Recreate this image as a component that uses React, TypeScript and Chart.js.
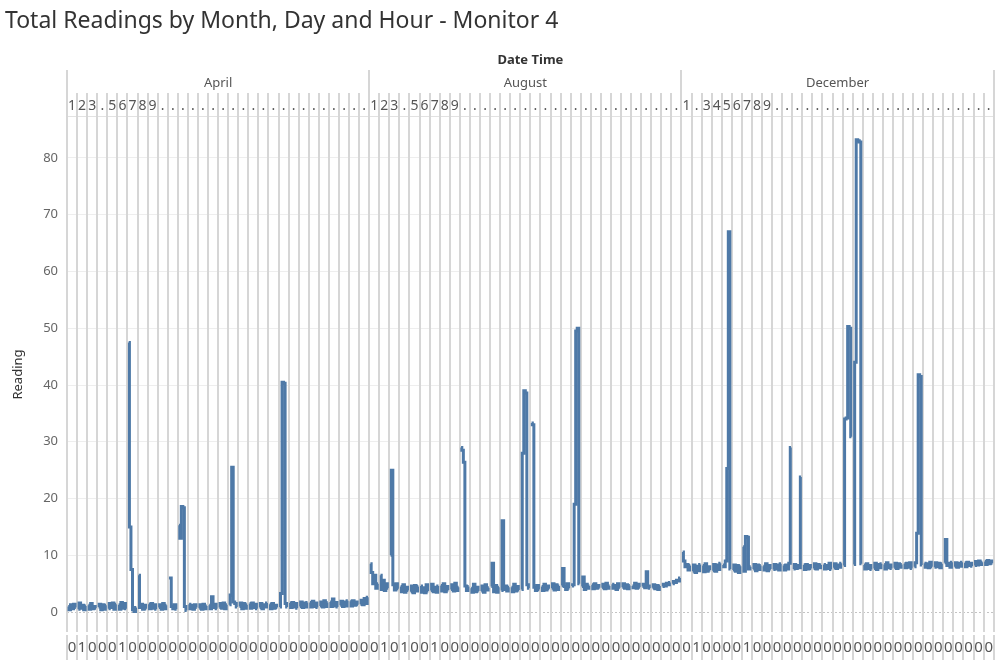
import React, { useEffect, useRef } from "react";
import { Chart, registerables } from "chart.js";

Chart.register(...registerables);

const FONT = '"Noto Sans", "Open Sans", sans-serif';

const chartTitle = "Total Readings by Month, Day and Hour - Monitor 4";
const monthNames = ["April", "August", "December"];

// Readings per day (6 readings per day, roughly every 4 hours)
const aprilReadings: number[][] = [
  [1.0, 0.4, 1.3, 0.6, 1.4, 0.8],
  [0.5, 1.6, 0.7, 1.2, 0.4, 1.1],
  [1.2, 0.5, 1.5, 0.6, 1.0, 0.7],
  [0.9, 1.4, 0.4, 1.3, 0.5, 1.2],
  [0.6, 1.5, 0.8, 1.6, 0.5, 1.4],
  [1.3, 0.5, 1.7, 0.7, 1.5, 0.6],
  [47.5, 15.0, 7.5, 0.4, 0.1, 0.8],
  [6.5, 0.8, 1.4, 0.5, 1.2, 0.6],
  [1.4, 0.6, 1.5, 0.7, 1.3, 0.5],
  [0.8, 1.3, 0.5, 1.5, 0.6, 1.2],
  [6.0, 6.0, 1.0, 0.6, 1.3, 0.5],
  [15.3, 13.0, 18.6, 18.4, 1.0, 0.3],
  [1.4, 0.6, 1.2, 0.5, 1.3, 0.8],
  [0.7, 1.3, 0.5, 1.4, 0.6, 1.1],
  [1.2, 0.6, 2.7, 0.8, 1.4, 0.6],
  [0.8, 1.5, 0.7, 1.6, 0.6, 1.3],
  [1.3, 3.0, 25.5, 1.8, 1.5, 0.9],
  [1.0, 1.6, 0.6, 1.5, 0.7, 1.3],
  [1.5, 0.7, 1.6, 0.8, 1.4, 0.6],
  [0.8, 1.5, 0.6, 1.3, 0.9, 1.6],
  [1.4, 0.6, 1.5, 0.7, 1.2, 0.8],
  [0.9, 3.3, 40.5, 40.3, 1.5, 0.9],
  [1.6, 0.8, 1.7, 0.9, 1.5, 0.7],
  [1.0, 1.8, 0.8, 1.6, 0.9, 1.7],
  [1.7, 0.9, 1.9, 1.0, 1.6, 0.8],
  [1.1, 1.8, 0.9, 2.0, 1.0, 1.7],
  [1.8, 1.0, 2.3, 1.1, 1.7, 0.9],
  [1.2, 1.9, 1.0, 1.8, 1.1, 2.0],
  [1.9, 1.1, 2.0, 1.2, 1.8, 1.3],
  [1.4, 2.1, 1.3, 2.4, 1.5, 2.6],
];

const augustReadings: number[][] = [
  [8.5, 7.0, 5.0, 6.5, 4.2, 5.0],
  [6.5, 4.0, 5.6, 3.8, 5.0, 4.2],
  [10.0, 25.0, 4.8, 3.9, 5.0, 4.1],
  [4.5, 3.6, 4.8, 3.5, 4.4, 3.8],
  [3.6, 4.6, 3.4, 4.7, 3.7, 4.5],
  [4.6, 3.5, 4.3, 3.4, 4.8, 3.7],
  [3.8, 4.9, 3.6, 4.4, 3.5, 4.6],
  [4.7, 3.7, 5.0, 3.6, 4.5, 3.9],
  [4.0, 4.8, 3.7, 5.1, 3.8, 4.4],
  [29.0, 28.5, 26.4, 4.6, 3.8, 4.5],
  [4.2, 3.5, 4.9, 3.6, 4.4, 3.7],
  [3.7, 4.6, 3.5, 4.8, 3.9, 4.3],
  [4.5, 8.6, 3.6, 4.7, 3.5, 4.4],
  [3.8, 16.1, 4.0, 4.6, 3.7, 4.4],
  [4.4, 3.6, 4.9, 3.7, 4.5, 3.9],
  [4.0, 28.0, 39.0, 38.6, 4.8, 4.2],
  [33.3, 33.0, 4.4, 3.8, 4.7, 4.0],
  [4.5, 3.8, 4.9, 3.9, 4.6, 4.1],
  [4.2, 5.0, 3.9, 4.8, 4.0, 4.6],
  [4.7, 7.7, 4.5, 4.0, 5.0, 4.2],
  [4.6, 4.8, 19.0, 49.5, 50.0, 5.0],
  [4.5, 6.2, 4.0, 4.9, 4.2, 4.6],
  [4.8, 4.1, 5.0, 4.2, 4.7, 4.3],
  [4.3, 4.9, 4.1, 5.1, 4.2, 4.6],
  [4.9, 4.2, 4.7, 4.0, 5.0, 4.3],
  [4.4, 5.0, 4.2, 4.8, 4.1, 4.7],
  [4.6, 4.3, 5.1, 4.2, 4.9, 4.4],
  [4.5, 4.9, 4.3, 7.1, 4.6, 4.2],
  [4.3, 4.8, 4.1, 4.7, 4.0, 4.6],
  [4.5, 4.9, 4.6, 5.1, 4.8, 5.2],
  [5.0, 5.4, 5.2, 5.6, 5.5, 6.0],
];

const decemberReadings: number[][] = [
  [10.6, 9.0, 8.0, 8.4, 7.4, 8.2],
  [7.2, 8.3, 7.0, 8.1, 7.3, 8.4],
  [8.2, 7.1, 8.5, 7.2, 8.0, 7.4],
  [7.3, 8.4, 7.2, 8.3, 7.5, 8.6],
  [8.3, 8.0, 9.0, 25.3, 67.0, 7.6],
  [7.4, 8.3, 7.2, 8.2, 7.0, 8.1],
  [11.5, 7.2, 13.3, 13.2, 7.6, 8.0],
  [7.6, 8.4, 7.3, 8.3, 7.5, 8.2],
  [8.1, 7.4, 8.5, 7.3, 8.2, 7.6],
  [7.5, 8.4, 7.6, 8.3, 7.4, 8.5],
  [8.2, 7.4, 8.3, 7.6, 8.6, 29.0],
  [7.6, 8.4, 7.7, 8.2, 7.8, 23.8],
  [8.3, 7.5, 8.4, 7.6, 8.2, 7.7],
  [7.7, 8.5, 7.6, 8.4, 7.8, 8.3],
  [8.4, 7.6, 8.2, 7.7, 8.6, 7.5],
  [7.8, 8.5, 7.7, 8.3, 7.9, 8.6],
  [8.2, 34.0, 34.2, 50.3, 50.0, 30.9],
  [8.4, 44.0, 83.2, 83.0, 82.8, 8.5],
  [8.3, 7.6, 8.5, 7.7, 8.2, 7.5],
  [7.7, 8.6, 7.5, 8.4, 7.8, 8.5],
  [8.4, 7.6, 8.7, 7.8, 8.3, 7.7],
  [7.8, 8.6, 7.7, 8.5, 7.9, 8.4],
  [8.5, 7.8, 8.6, 7.9, 8.7, 7.7],
  [8.0, 8.7, 13.9, 41.8, 41.5, 8.3],
  [8.6, 7.9, 8.5, 7.8, 8.8, 8.0],
  [7.9, 8.7, 8.0, 8.6, 7.8, 8.5],
  [8.7, 12.8, 8.2, 8.6, 7.9, 8.8],
  [8.0, 8.7, 7.9, 8.6, 8.1, 8.8],
  [8.7, 8.0, 8.8, 8.2, 8.6, 8.1],
  [8.2, 8.9, 8.3, 9.0, 8.4, 8.8],
  [8.9, 8.4, 9.1, 8.5, 9.0, 8.6],
];

// Header (day) labels as displayed, one per day column
const aprilDayLabels = ("123.56789" + ".........." + ".........." + ".").split("");
const augustDayLabels = ("123.56789" + ".........." + ".........." + "..").split("");
const decemberDayLabels = ("1.3456789" + ".........." + ".........." + "..").split("");

// Bottom (hour axis) labels as displayed, one per day column
const aprilHourLabels = ("010001" + "000000000000" + "000000000000").split("");
const augustHourLabels = ("0101001" + "000000000000" + "000000000000").split("");
const decemberHourLabels = ("0100001" + "000000000000" + "000000000000").split("");

const yTickValues = [0, 10, 20, 30, 40, 50, 60, 70, 80];

const monthReadings = [aprilReadings, augustReadings, decemberReadings];
const dayLabels = [...aprilDayLabels, ...augustDayLabels, ...decemberDayLabels];
const hourLabels = [...aprilHourLabels, ...augustHourLabels, ...decemberHourLabels];

const monthStarts: number[] = [];
let acc = 0;
monthReadings.forEach((m) => {
  monthStarts.push(acc);
  acc += m.length;
});
const totalDays = acc;
monthStarts.push(totalDays);
const monthCenters = monthReadings.map((m, i) => monthStarts[i] + m.length / 2);
const dayCenters = dayLabels.map((_, i) => i + 0.5);

function buildPoints() {
  const pts: { x: number; y: number | null }[] = [];
  let dayIndex = 0;
  monthReadings.forEach((month) => {
    month.forEach((day) => {
      day.forEach((v, i) => {
        pts.push({ x: dayIndex + 0.12 + (0.76 * i) / (day.length - 1), y: v });
      });
      pts.push({ x: dayIndex + 1, y: null });
      dayIndex++;
    });
  });
  return pts;
}

const separatorPlugin = {
  id: "daySeparators",
  beforeDatasetsDraw(chart: any) {
    const { ctx, chartArea, scales } = chart;
    const xs = scales.x;
    const ys = scales.y;
    ctx.save();
    // zero line
    const y0 = Math.round(ys.getPixelForValue(0)) + 0.5;
    ctx.strokeStyle = "#c4c4c4";
    ctx.lineWidth = 1;
    ctx.setLineDash([2, 2]);
    ctx.beginPath();
    ctx.moveTo(chartArea.left, y0);
    ctx.lineTo(chartArea.right, y0);
    ctx.stroke();
    ctx.setLineDash([]);

    // header bottom line
    ctx.strokeStyle = "#e2e2e2";
    ctx.beginPath();
    ctx.moveTo(chartArea.left, chartArea.top - 0.5);
    ctx.lineTo(chartArea.right, chartArea.top - 0.5);
    ctx.stroke();

    const dayTop = scales.xDay.top - 4;
    const monthTop = scales.xMonth.top + 22;
    const gapTop = chartArea.bottom;
    const gapBottom = chartArea.bottom + 3;
    const bottom = scales.x.bottom;
    ctx.strokeStyle = "#d6d6d6";
    ctx.lineWidth = 2;
    for (let d = 0; d <= totalDays; d++) {
      const px = Math.round(xs.getPixelForValue(d));
      const top = monthStarts.includes(d) ? monthTop : dayTop;
      ctx.beginPath();
      ctx.moveTo(px, top);
      ctx.lineTo(px, gapTop);
      ctx.moveTo(px, gapBottom);
      ctx.lineTo(px, bottom);
      ctx.stroke();
    }
    ctx.restore();
  },
};

export default function App() {
  const ref = useRef<HTMLCanvasElement>(null);
  useEffect(() => {
    Chart.defaults.font.family = FONT;
    const chart = new Chart(ref.current as HTMLCanvasElement, {
      type: "line",
      data: {
        datasets: [
          {
            data: buildPoints() as any,
            borderColor: "#4e79a7",
            backgroundColor: "#4e79a7",
            borderWidth: 3,
            borderJoinStyle: "miter",
            borderCapStyle: "butt",
            stepped: "middle",
            pointRadius: 0,
            tension: 0,
            spanGaps: false,
          },
        ],
      },
      options: {
        animation: false,
        responsive: false,
        parsing: false as any,
        normalized: true,
        layout: { padding: { left: 5, right: 5, top: 0, bottom: 0 } },
        plugins: {
          legend: { display: false },
          tooltip: { enabled: false },
          title: {
            display: true,
            text: chartTitle,
            align: "start",
            color: "#333333",
            font: { family: FONT, size: 23, weight: "normal" as any, lineHeight: 1.2 },
            padding: { top: 8, bottom: 12.4 },
          },
        },
        scales: {
          x: {
            type: "linear",
            position: "bottom",
            min: 0,
            max: totalDays,
            afterBuildTicks: (s: any) => {
              s.ticks = dayCenters.map((v) => ({ value: v }));
            },
            afterFit: (s: any) => {
              s.height = 28;
            },
            grid: { display: false, drawTicks: false },
            border: { display: false },
            ticks: {
              autoSkip: false,
              maxRotation: 0,
              minRotation: 0,
              padding: 7,
              color: "#555555",
              font: { family: FONT, size: 15 },
              callback: (_v: any, i: number) => hourLabels[i],
            },
          },
          xDay: {
            type: "linear",
            position: "top",
            weight: 0,
            min: 0,
            max: totalDays,
            afterBuildTicks: (s: any) => {
              s.ticks = dayCenters.map((v) => ({ value: v }));
            },
            afterFit: (s: any) => {
              s.height = 20;
            },
            grid: { display: false, drawTicks: false },
            border: { display: false },
            ticks: {
              autoSkip: false,
              maxRotation: 0,
              minRotation: 0,
              padding: 3,
              color: "#555555",
              font: { family: FONT, size: 14 },
              callback: (_v: any, i: number) => dayLabels[i],
            },
          },
          xMonth: {
            type: "linear",
            position: "top",
            weight: 1,
            min: 0,
            max: totalDays,
            afterBuildTicks: (s: any) => {
              s.ticks = monthCenters.map((v) => ({ value: v }));
            },
            afterFit: (s: any) => {
              s.height = 49;
            },
            grid: { display: false, drawTicks: false },
            border: { display: false },
            title: {
              display: true,
              text: "Date Time",
              color: "#333333",
              font: { family: FONT, size: 13, weight: "bold" as any },
              padding: { top: 4, bottom: 0 },
            },
            ticks: {
              autoSkip: false,
              maxRotation: 0,
              minRotation: 0,
              padding: 6,
              color: "#555555",
              font: { family: FONT, size: 13 },
              callback: (_v: any, i: number) => monthNames[i],
            },
          },
          y: {
            type: "linear",
            min: -3.5,
            max: 87.2,
            afterBuildTicks: (s: any) => {
              s.ticks = yTickValues.map((v) => ({ value: v }));
            },
            afterFit: (s: any) => {
              s.width = 62;
            },
            grid: {
              drawTicks: false,
              lineWidth: 1,
              color: (c: any) =>
                c.tick && c.tick.value === 0 ? "rgba(0,0,0,0)" : "#eeeeee",
            },
            border: { display: false },
            ticks: {
              padding: 9,
              color: "#666666",
              font: { family: FONT, size: 13 },
            },
            title: {
              display: true,
              text: "Reading",
              color: "#333333",
              font: { family: FONT, size: 13 },
              padding: { top: 5, bottom: 0 },
            },
          },
        },
      } as any,
      plugins: [separatorPlugin],
    });
    return () => chart.destroy();
  }, []);

  return (
    <div
      style={{
        position: "fixed",
        left: 0,
        top: 0,
        width: 1000,
        height: 660,
        background: "#ffffff",
      }}
    >
      <canvas ref={ref} width={1000} height={660} />
    </div>
  );
}
